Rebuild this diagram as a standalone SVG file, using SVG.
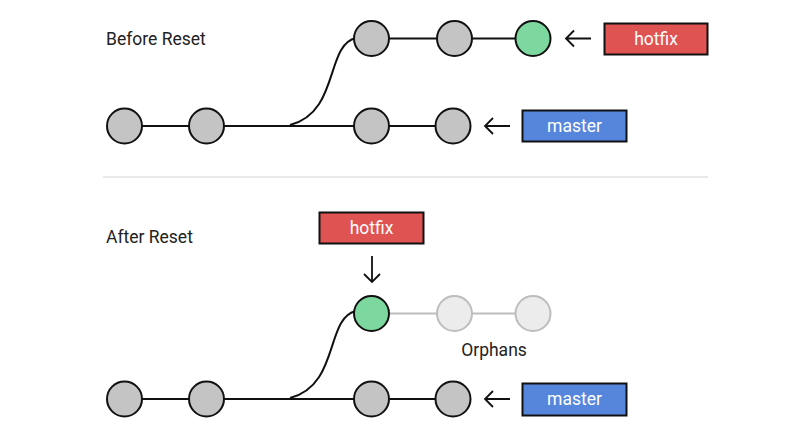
<svg xmlns="http://www.w3.org/2000/svg" width="805" height="436" viewBox="0 0 805 436">
  <style>
    .title { font-family: Roboto, "Liberation Sans", sans-serif; font-size: 17.5px; fill: #222; }
    .label { font-family: Roboto, "Liberation Sans", sans-serif; font-size: 17.5px; fill: #fff; text-anchor: middle; }
    .commit { fill: #c4c4c4; stroke: #111; stroke-width: 2; }
    .head { fill: #7dd8a0; stroke: #111; stroke-width: 2; }
    .orphan { fill: #ececec; stroke: #bdbdbd; stroke-width: 2; }
    .edge { fill: none; stroke: #111; stroke-width: 2; }
    .edge-faint { fill: none; stroke: #bdbdbd; stroke-width: 2; }
    .ptr { fill: none; stroke: #111; stroke-width: 1.8; }
    .red { fill: #e05353; stroke: #111; stroke-width: 2; }
    .blue { fill: #5686dc; stroke: #111; stroke-width: 2; }
  </style>
  <rect width="805" height="436" fill="#fff"/>

  <text class="title" x="106" y="45">Before Reset</text>
  <text class="title" x="106" y="243">After Reset</text>
  <line x1="103" y1="177" x2="708" y2="177" stroke="#e2e2e2" stroke-width="1.5"/>

  <g id="connectors">
    <!-- before reset -->
    <line class="edge" x1="124" y1="126" x2="453" y2="126"/>
    <path class="edge" d="M290,125 C340,112 325,45 356,38"/>
    <line class="edge" x1="372" y1="38.5" x2="533" y2="38.5"/>
    <!-- after reset -->
    <line class="edge" x1="124" y1="399" x2="453" y2="399"/>
    <path class="edge" d="M290,398 C340,385 325,318 356,311"/>
    <line class="edge-faint" x1="390" y1="313.5" x2="533" y2="313.5"/>
    <!-- branch pointers -->
    <path class="ptr" d="M591,38.5 H566 M574,30.5 L566,38.5 L574,46.5"/>
    <path class="ptr" d="M510,126 H485 M493,118 L485,126 L493,134"/>
    <path class="ptr" d="M510,399 H485 M493,391 L485,399 L493,407"/>
    <path class="ptr" d="M372,256 V282 M364,274 L372,282 L380,274"/>
  </g>

  <g id="before-c1"><circle class="commit" cx="124.5" cy="126" r="17.5"/></g>
  <g id="before-c2"><circle class="commit" cx="206.5" cy="126" r="17.5"/></g>
  <g id="before-c3"><circle class="commit" cx="371.5" cy="126" r="17.5"/></g>
  <g id="before-c4"><circle class="commit" cx="453" cy="126" r="17.5"/></g>
  <g id="before-h1"><circle class="commit" cx="371.5" cy="38.5" r="17.5"/></g>
  <g id="before-h2"><circle class="commit" cx="454.5" cy="38.5" r="17.5"/></g>
  <g id="before-h3"><circle class="head" cx="533" cy="38.5" r="17.5"/></g>

  <g id="before-hotfix">
    <rect class="red" x="604.5" y="23.5" width="103" height="31"/>
    <text class="label" x="656" y="45">hotfix</text>
  </g>
  <g id="before-master">
    <rect class="blue" x="522.5" y="110.5" width="104" height="31"/>
    <text class="label" x="574.5" y="132">master</text>
  </g>

  <g id="after-c1"><circle class="commit" cx="124.5" cy="399" r="17.5"/></g>
  <g id="after-c2"><circle class="commit" cx="206.5" cy="399" r="17.5"/></g>
  <g id="after-c3"><circle class="commit" cx="371.5" cy="399" r="17.5"/></g>
  <g id="after-c4"><circle class="commit" cx="453" cy="399" r="17.5"/></g>
  <g id="after-h1"><circle class="head" cx="371.5" cy="313.5" r="17.5"/></g>
  <g id="after-o1"><circle class="orphan" cx="454.5" cy="313.5" r="17.5"/></g>
  <g id="after-o2"><circle class="orphan" cx="533" cy="313.5" r="17.5"/></g>
  <text class="title" x="494" y="356" text-anchor="middle">Orphans</text>

  <g id="after-hotfix">
    <rect class="red" x="319.5" y="212.5" width="104" height="31"/>
    <text class="label" x="371.5" y="234">hotfix</text>
  </g>
  <g id="after-master">
    <rect class="blue" x="522.5" y="383.5" width="104" height="32"/>
    <text class="label" x="574.5" y="405">master</text>
  </g>
</svg>
